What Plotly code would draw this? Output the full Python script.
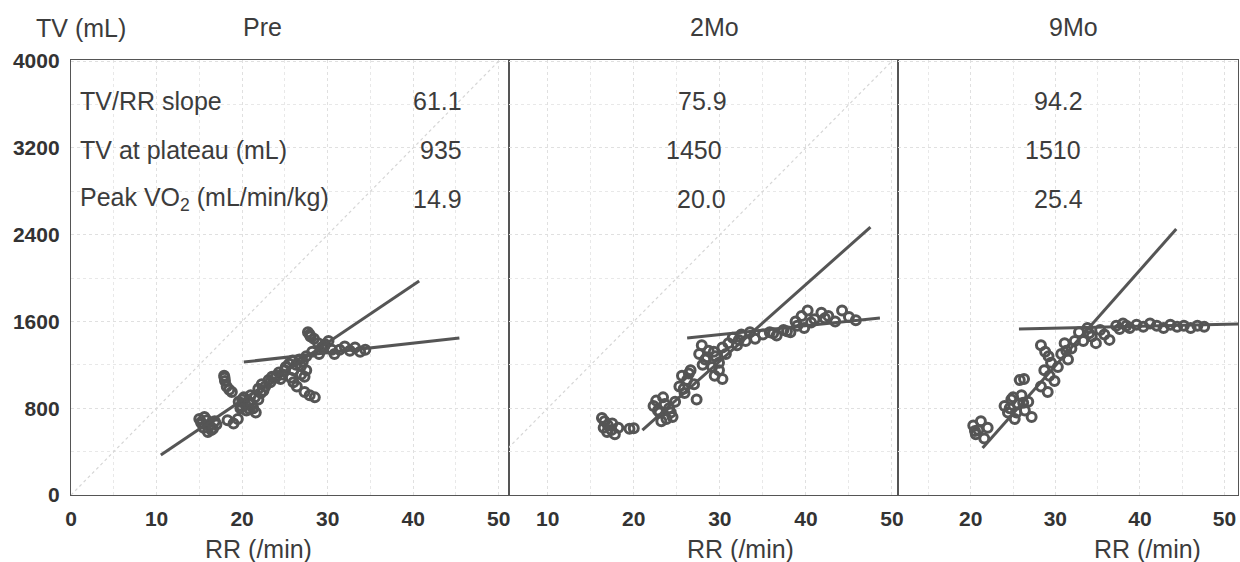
import plotly.graph_objects as go

W, H = 1240, 562

# ---------------- data ----------------
panels = ["Pre", "2Mo", "9Mo"]
x_ranges = [[0, 51.2], [5.5, 50.7], [11.4, 51.6]]
y_range = [0, 4010]

# scatter points (RR /min, TV mL)
pre_rr = [15.0, 15.3, 15.6, 15.9, 16.2, 16.4, 16.0, 16.8, 17.0, 15.5, 15.2, 16.6,
          18.3, 19.0, 19.5,
          17.9, 18.0, 18.2, 18.5, 18.8, 17.95,
          19.6, 19.9, 20.2, 20.5, 20.8, 21.0, 21.3, 21.6, 21.9, 22.2, 20.0, 21.1,
          20.4, 20.9, 21.5, 19.8,
          21.9, 22.3, 22.7, 23.1, 23.5, 23.9, 24.3, 24.7, 25.0,
          22.5, 23.3, 24.0, 24.5,
          25.1, 25.5, 25.9, 26.3, 26.7, 27.1, 27.5, 26.0, 26.9,
          25.7, 26.0, 26.4, 26.9, 27.3, 27.5,
          27.3, 27.9, 28.5,
          27.7, 28.0, 28.4, 28.9, 29.3, 29.7, 30.1, 30.5, 29.0, 28.2, 30.8, 27.9, 29.6,
          31.4, 32.0, 32.6, 33.2, 33.8, 34.4]
pre_tv = [700, 660, 720, 690, 640, 600, 580, 680, 650, 620, 670, 610,
          690, 660, 700,
          1100, 1050, 1000, 970, 950, 1080,
          860, 820, 900, 780, 860, 920, 800, 760, 880, 940, 880, 840,
          830, 790, 900, 800,
          980, 1020, 1000, 1060, 1090, 1080, 1130, 1110, 1150,
          960, 1040, 1100, 1070,
          1180, 1210, 1240, 1200, 1250, 1230, 1280, 1150, 1190,
          1080, 1040, 1000, 1110, 1090, 1150,
          950, 920, 900,
          1500, 1460, 1440, 1400, 1360, 1390, 1420, 1340, 1300, 1320, 1300, 1480, 1370,
          1340, 1370, 1330, 1360, 1320, 1340]

mo2_rr = [16.3, 16.6, 17.0, 17.4, 17.8, 18.2, 16.9, 17.5, 16.5,
          19.5, 20.0,
          22.3, 22.6, 23.0, 23.4, 23.8, 24.1, 24.5, 24.8, 23.2, 22.8, 23.6, 24.3,
          25.3, 25.6, 25.9, 26.2, 26.6, 27.0, 27.3, 25.8, 26.4,
          27.6, 27.9, 28.3, 28.7, 29.1, 29.5, 29.9, 30.3, 30.7, 28.0, 28.5, 29.3,
          29.4, 29.9, 30.3,
          31.0, 31.5, 32.0, 32.5, 33.0, 33.5, 34.1, 32.2,
          35.0, 35.8, 36.6, 37.4, 38.2, 39.0, 39.8, 36.2, 37.8,
          38.8, 39.5, 40.2, 41.0, 41.8, 42.6, 43.4, 44.2, 45.0, 45.8, 40.6, 42.2]
mo2_tv = [710, 680, 640, 600, 560, 620, 580, 660, 620,
          610, 615,
          820, 870, 760, 900, 700, 800, 720, 860, 680, 780, 840, 760,
          1000, 1100, 940, 1060, 1150, 1020, 880, 980, 1120,
          1300, 1380, 1250, 1330, 1180, 1280, 1220, 1360, 1300, 1200, 1270, 1320,
          1100, 1150, 1070,
          1400, 1450, 1380, 1480, 1420, 1500, 1440, 1430,
          1480, 1500, 1470, 1520, 1500, 1560, 1540, 1490, 1510,
          1600, 1650, 1700, 1620, 1680, 1650, 1600, 1700, 1640, 1610, 1590, 1630]

mo9_rr = [20.3, 20.6, 20.9, 21.2, 21.6, 22.0, 20.5,
          24.0, 24.4, 24.8, 25.2, 25.6, 26.0, 26.4, 26.8, 27.2, 25.0, 24.6, 25.4, 26.2,
          25.8, 26.3,
          28.3, 28.7, 29.1, 29.5, 29.9, 30.3, 29.3,
          28.3, 28.8, 29.2,
          30.7, 31.1, 31.5, 31.9, 32.3, 31.3,
          32.8, 33.3, 33.8, 34.3, 34.8, 35.3, 35.8, 36.4, 34.0,
          37.2, 38.0, 38.8, 39.6, 40.4, 41.2, 42.0, 42.8, 43.6, 44.4, 45.2, 46.0, 46.8, 47.6, 37.6, 38.4]
mo9_tv = [640, 560, 600, 680, 520, 620, 590,
          820, 760, 880, 700, 840, 920, 780, 860, 720, 900, 800, 760, 850,
          1060, 1070,
          1000, 1150, 950, 1220, 1050, 1180, 1100,
          1380, 1320, 1280,
          1300, 1400, 1250, 1350, 1420, 1330,
          1500, 1420, 1540, 1460, 1400, 1520, 1480, 1430, 1490,
          1560, 1580, 1540, 1570, 1550, 1580, 1560, 1540, 1570, 1550, 1560, 1540, 1560, 1550, 1530, 1560]

# fitted lines (end points)
steep_rr = [[10.5, 40.7], [21.0, 47.5], [21.4, 44.3]]
steep_tv = [[369, 1972], [599, 2470], [433, 2452]]
plat_rr = [[20.2, 45.4], [26.2, 48.6], [25.7, 52.0]]
plat_tv = [[1226, 1447], [1447, 1631], [1530, 1576]]

# faint diagonal reference
diag_rr = [0, 50]
diag_tv = [0, 4000]

# table values
row_labels = ["TV/RR slope", "TV at plateau (mL)", "Peak VO<sub>2</sub> (mL/min/kg)"]
slope_vals = ["61.1", "75.9", "94.2"]
plateau_vals = ["935", "1450", "1510"]
vo2_vals = ["14.9", "20.0", "25.4"]

x_tick_vals = [0, 10, 20, 30, 40, 50]
y_tick_vals = [0, 800, 1600, 2400, 3200, 4000]

# ---------------- layout helpers ----------------
def px_x(p):
    return p / W

def px_y(p):
    return 1 - p / H

x_domains = [[px_x(71), px_x(509)], [px_x(509), px_x(898)], [px_x(898), px_x(1238)]]
y_domain = [px_y(495), px_y(60)]

FONT = "Liberation Sans, Arial, sans-serif"
TXT = "#3c3c3c"
LINE = "#555555"

fig = go.Figure()

scat = [(pre_rr, pre_tv), (mo2_rr, mo2_tv), (mo9_rr, mo9_tv)]
for i in range(3):
    xa = "x" if i == 0 else f"x{i+1}"
    ya = "y" if i == 0 else f"y{i+1}"
    if i < 2:
        fig.add_trace(go.Scatter(x=diag_rr, y=diag_tv, mode="lines", xaxis=xa, yaxis=ya,
                                 line=dict(color="#d6d6d6", width=1.2, dash="dot"),
                                 hoverinfo="skip"))
    fig.add_trace(go.Scatter(x=scat[i][0], y=scat[i][1], mode="markers", xaxis=xa, yaxis=ya,
                             marker=dict(symbol="circle-open", size=9, color=LINE,
                                         line=dict(width=3, color=LINE))))
    fig.add_trace(go.Scatter(x=steep_rr[i], y=steep_tv[i], mode="lines", xaxis=xa, yaxis=ya,
                             line=dict(color=LINE, width=3)))
    fig.add_trace(go.Scatter(x=plat_rr[i], y=plat_tv[i], mode="lines", xaxis=xa, yaxis=ya,
                             line=dict(color=LINE, width=3)))

tickfont = dict(family=FONT, size=21, color="#333333", weight="bold")
for i in range(3):
    key = "xaxis" if i == 0 else f"xaxis{i+1}"
    fig.layout[key] = dict(
        domain=x_domains[i], range=x_ranges[i], anchor="y" if i == 0 else f"y{i+1}",
        tickvals=x_tick_vals, ticks="", showline=True, mirror=True,
        linecolor=LINE, linewidth=1.4, showgrid=True, gridcolor="#e0e0e0",
        griddash="dot", gridwidth=1, zeroline=False, tickfont=tickfont,
        ticklabelstandoff=5, automargin=False,
        minor=dict(dtick=5, tick0=0, showgrid=True, gridcolor="#e8e8e8", griddash="dot"),
    )
    ykey = "yaxis" if i == 0 else f"yaxis{i+1}"
    fig.layout[ykey] = dict(
        domain=y_domain, range=y_range, anchor="x" if i == 0 else f"x{i+1}",
        tickvals=y_tick_vals, ticks="", showline=True, mirror=True,
        linecolor=LINE, linewidth=1.4, showgrid=True, gridcolor="#e0e0e0",
        griddash="dot", gridwidth=1, zeroline=False, tickfont=tickfont,
        showticklabels=(i == 0), ticklabelstandoff=6, automargin=False,
        minor=dict(dtick=400, tick0=0, showgrid=True, gridcolor="#e8e8e8", griddash="dot"),
    )

ann = []
def add_text(text, x, y, size=25, xanchor="center"):
    ann.append(dict(text=text, x=px_x(x), y=px_y(y), xref="paper", yref="paper",
                    xanchor=xanchor, yanchor="middle", showarrow=False,
                    font=dict(family=FONT, size=size, color=TXT)))

add_text("TV (mL)", 81, 28)
title_x = [262, 714, 1073]
for i, t in enumerate(panels):
    add_text(t, title_x[i], 27)

xlabel_x = [258, 740, 1147]
for xx in xlabel_x:
    add_text("RR (/min)", xx, 549)

row_y = [101, 150, 199]
for r, lab in enumerate(row_labels):
    add_text(lab, 78, row_y[r], xanchor="left")

vals = [slope_vals, plateau_vals, vo2_vals]
for r in range(3):
    add_text(vals[r][0], 464, row_y[r], xanchor="right")
col_x = [[702, 694, 701], [1058, 1053, 1058]]
for p in range(2):
    for r in range(3):
        add_text(vals[r][p + 1], col_x[p][r], row_y[r])

fig.update_layout(
    width=W, height=H, margin=dict(l=0, r=0, t=0, b=0),
    paper_bgcolor="white", plot_bgcolor="white", showlegend=False,
    annotations=ann,
)

fig.write_html("out.html")
